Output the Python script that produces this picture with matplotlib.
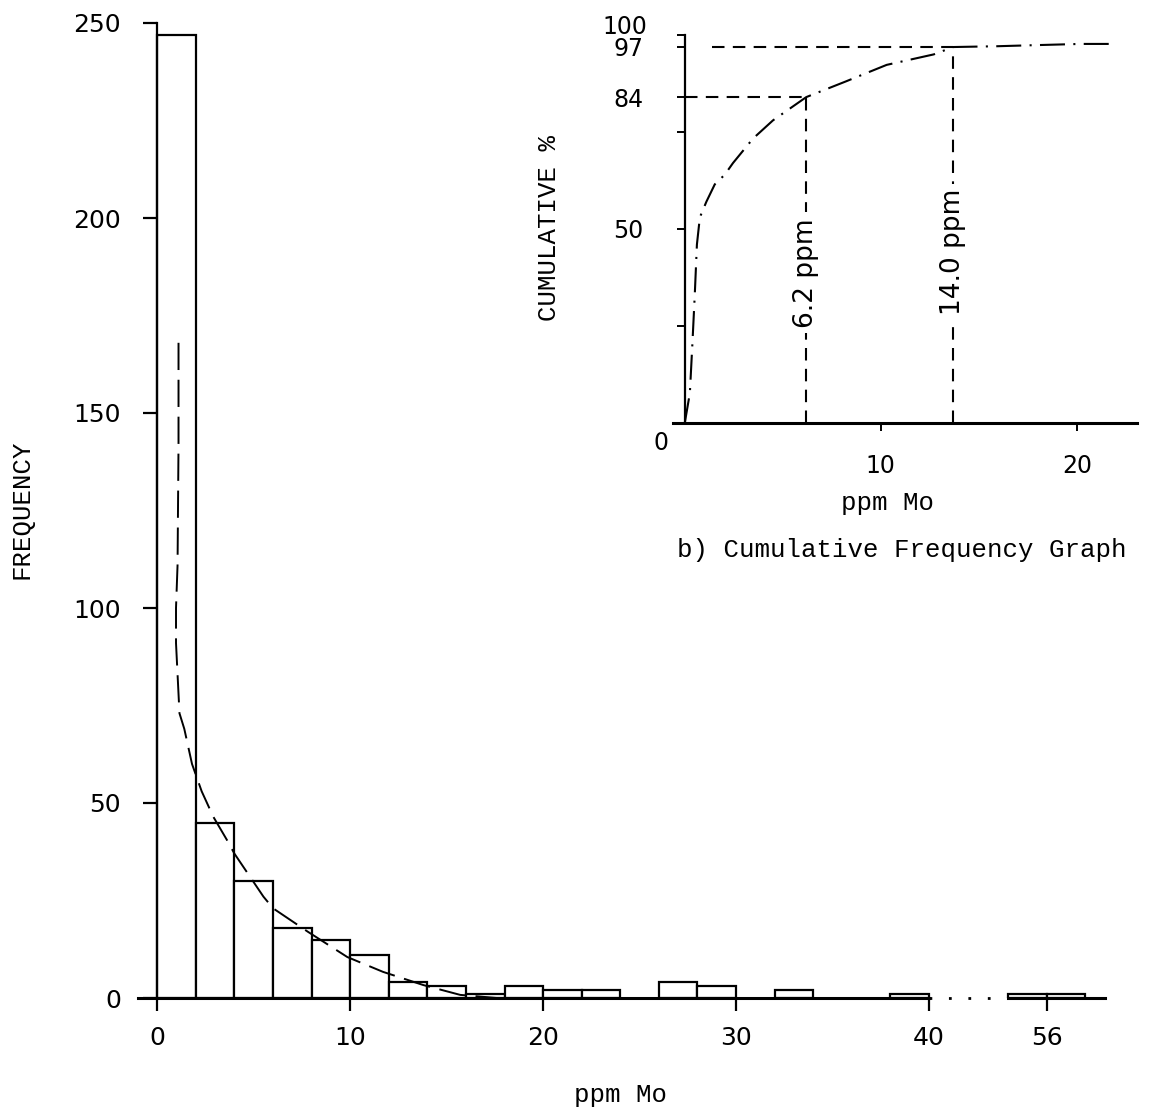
import numpy as np
import matplotlib
matplotlib.use("Agg")
import matplotlib.pyplot as plt

# histogram of Mo values, 2 ppm classes (left edges)
bin_left = [0, 2, 4, 6, 8, 10, 12, 14, 16, 18, 20, 22, 26, 28, 32, 38, 54, 56]
counts = [247, 45, 30, 18, 15, 11, 4, 3, 1, 3, 2, 2, 4, 3, 2, 1, 1, 1]
bin_w = 2

# hand fitted curve over the histogram
fit_x = [1.1, 1.1, 1.1, 1.05, 0.97, 0.97, 1.02, 1.15, 1.4, 1.8, 2.3, 2.9, 3.6, 4.0,
         5.5, 6.0, 7.8, 9.85, 11.7, 13.8, 15.7, 17.6, 20, 24]
fit_y = [168, 146, 142, 111, 100, 91, 86, 73, 69, 60, 53, 46.5, 40.6, 37,
         26, 23, 17, 10.5, 6.7, 3.3, 0.8, 0, -0.5, -0.8]

x_ticks = [0, 10, 20, 30, 40, 56]
y_ticks = [0, 50, 100, 150, 200, 250]

# cumulative frequency curve (inset)
cum_x = [0, 0.26, 0.39, 0.51, 0.62, 0.77, 1.1, 1.53, 2.04, 2.46, 3.48, 4.5, 6.2,
         8.2, 10.3, 12.7, 13.7, 15.9, 18.0, 20.2, 22.0]
cum_y = [0, 7.7, 20.5, 33, 46, 53, 57, 61.5, 64, 67, 73.3, 78, 84,
         88, 92.3, 95, 96.9, 97.1, 97.4, 97.7, 97.7]
pct_levels = [84, 97]
ppm_at_level = [6.2, 13.7]
level_text = ["6.2 ppm", "14.0 ppm"]
text_mid = [38.7, 44]
cum_yticks = [0, 25, 50, 75, 84, 97, 100]
cum_ylabels = ["", "", "50", "", "84", "97", ""]
cum_xticks = [10, 20]

W, H = 1154, 1112
hand = "DejaVu Sans"
mono = "Liberation Mono"

# broken x axis: 40..54 squeezed
brk_in = [-100, 40, 54, 200]
brk_out = [-100, 40, 44.1, 190.1]


def fwd(x):
    return np.interp(x, brk_in, brk_out)


def inv(x):
    return np.interp(x, brk_out, brk_in)


fig = plt.figure(figsize=(W / 100, H / 100), dpi=100)
ax = fig.add_axes([138 / W, 1 - 998 / H, (1104 - 138) / W, (998 - 23) / H])
ax.set_xscale("function", functions=(fwd, inv))
ax.set_xlim(-1, 58.97)
ax.set_ylim(0, 250)

ax.bar(bin_left, counts, width=bin_w, align="edge", color="white",
       edgecolor="black", linewidth=1.6, zorder=2)
ax.plot(fit_x, fit_y, color="black", lw=1.4, ls=(0, (14, 5)), zorder=3)

# baseline with the dotted break
ax.plot([-1, 40], [0, 0], color="black", lw=2.2, clip_on=False, zorder=4)
ax.plot([40, 54], [0, 0], color="black", lw=2.0, ls=(0, (1, 6)), clip_on=False, zorder=4)
ax.plot([54, 59], [0, 0], color="black", lw=2.2, clip_on=False, zorder=4)

for s in ["top", "right", "bottom"]:
    ax.spines[s].set_visible(False)
ax.spines["left"].set_position(("data", 0))
ax.spines["left"].set_linewidth(1.6)

ax.set_xticks(x_ticks)
ax.set_xticklabels([str(v) for v in x_ticks])
ax.set_yticks(y_ticks)
ax.set_yticklabels([str(v) for v in y_ticks])
ax.minorticks_off()
ax.tick_params(axis="y", direction="out", length=10, width=1.6, pad=16, labelsize=18)
ax.tick_params(axis="x", direction="out", length=9, width=1.6, pad=11, labelsize=18)
for t in ax.get_xticklabels() + ax.get_yticklabels():
    t.set_family(hand)

fig.text(22 / W, 1 - 509 / H, "FREQUENCY", rotation=90, ha="center", va="center",
         family=mono, fontsize=18.5)
fig.text(621 / W, 1 - 1095 / H, "ppm Mo", ha="center", va="center",
         family=mono, fontsize=18.5)

# inset: cumulative frequency graph
ax2 = fig.add_axes([673 / W, 1 - 423 / H, (1137 - 673) / W, (423 - 35) / H])
ax2.set_xlim(-0.6, 23.07)
ax2.set_ylim(0, 100)
ax2.patch.set_alpha(0)
ax2.plot(cum_x, cum_y, color="black", lw=1.5, ls=(0, (12, 4, 1, 4)), zorder=3)

for lev, ppm, txt, ym in zip(pct_levels, ppm_at_level, level_text, text_mid):
    x0 = 1.4 if lev == 97 else 0
    ax2.plot([x0, ppm], [lev, lev], color="black", lw=1.5, ls=(0, (6, 4)), zorder=2)
    ax2.plot([ppm, ppm], [0, lev], color="black", lw=1.5, ls=(0, (6, 4)), zorder=2)
    ax2.text(ppm, ym, txt, rotation=90, ha="center", va="center", family=hand,
             fontsize=19, bbox=dict(facecolor="white", edgecolor="none", pad=4), zorder=4)

for s in ["top", "right"]:
    ax2.spines[s].set_visible(False)
ax2.spines["left"].set_position(("data", 0))
ax2.spines["left"].set_linewidth(1.6)
ax2.spines["bottom"].set_linewidth(2.2)
ax2.set_yticks(cum_yticks)
ax2.set_yticklabels(cum_ylabels)
ax2.set_xticks(cum_xticks)
ax2.set_xticklabels([str(v) for v in cum_xticks])
ax2.tick_params(axis="y", direction="out", length=6, width=1.4, pad=24, labelsize=17)
ax2.tick_params(axis="x", direction="out", length=6, width=1.4, pad=16, labelsize=17)
for t in ax2.get_xticklabels() + ax2.get_yticklabels():
    t.set_family(hand)
ax2.annotate("0", (0, 0), xytext=(-24, -20), textcoords="offset pixels",
             ha="center", va="center", family=hand, fontsize=17)
ax2.annotate("100", (0, 100), xytext=(-60, 8), textcoords="offset pixels",
             ha="center", va="center", family=hand, fontsize=17)

fig.text(549 / W, 1 - 228 / H, "CUMULATIVE %", rotation=90, ha="center", va="center",
         family=mono, fontsize=18.5)
fig.text(888 / W, 1 - 503 / H, "ppm Mo", ha="center", va="center",
         family=mono, fontsize=18.5)
fig.text(902 / W, 1 - 550 / H, "b) Cumulative Frequency Graph", ha="center", va="center",
         family=mono, fontsize=18.5)

fig.savefig("out.png", dpi=100, facecolor="white")
